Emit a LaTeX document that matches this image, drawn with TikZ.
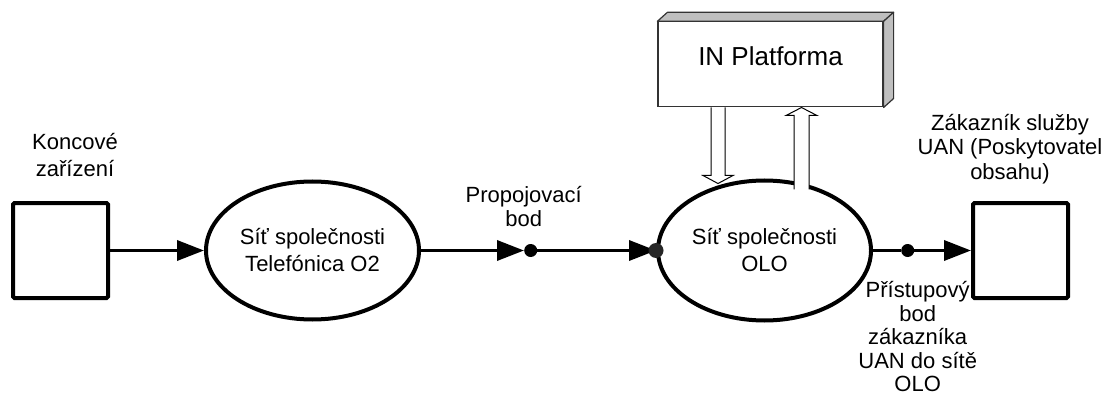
\documentclass[tikz,border=0pt]{standalone}
\usepackage{fontspec}
\setmainfont{Liberation Sans}
\usepackage{tikz}
\usetikzlibrary{shapes.geometric, arrows.meta, positioning, calc}
\tikzstyle{device} = [rectangle, minimum width=95pt, minimum height=95pt, draw=black, line width=4pt, rounded corners=1.5pt]
\tikzstyle{net} = [ellipse, minimum width=213pt, minimum height=138pt, inner sep=0pt, draw=black, line width=4pt, align=center, font=\fontsize{22pt}{27pt}\selectfont]
\tikzstyle{joint} = [circle, fill=black, minimum size=13pt, inner sep=0pt]
\tikzstyle{lbl} = [align=center, inner sep=0pt, anchor=base, font=\fontsize{22pt}{24pt}\selectfont]
\tikzstyle{arrow} = [line width=3.5pt, -{Triangle[length=27pt, width=20pt]}]
\tikzstyle{platform} = [rectangle, minimum width=225pt, minimum height=85pt, draw=black!80, line width=1.2pt, fill=white, text height=19pt, text depth=16pt, font=\fontsize{26pt}{30pt}\selectfont]
\tikzstyle{side} = [draw=black!80, fill=black!25, line width=1.2pt, line join=round]
\tikzstyle{hollow} = [draw=black, fill=white, line width=1pt]

\begin{document}
\begin{tikzpicture}[x=1pt, y=1pt]
\useasboundingbox (0,0) rectangle (1102,394);

% Terminal, networks, customer
\node (term) [device] at (60.5,143.5) {};
\node (tef) [net, right=94pt of term] {Síť společnosti\\Telefónica O2};
\node (olo) [net, right=235pt of tef, minimum height=140pt] {Síť společnosti\\OLO};
\node (cust) [device, right=98pt of olo] {};

% Connection points
\node (pb) [joint, right=103pt of tef] {};
\node (ap) [joint, right=28pt of olo] {};

% IN Platform
\node (in) [platform, above=71pt of olo, xshift=6pt] {IN Platforma};
\draw [side] (in.north west) -- ++(10,9) -- ($(in.north east)+(10,9)$) -- (in.north east) -- cycle;
\draw [side] (in.north east) -- ++(10,9) -- ($(in.south east)+(10,9)$) -- (in.south east) -- cycle;

% Block arrows between platform and OLO
\draw [hollow] ($(in.south)+(-59.5,0)$) -- ++(0,-68) -- ++(-8,0) -- ++(15,-8) -- ++(15,8) -- ++(-8,0) -- ++(0,68);
\draw [hollow] ($(in.south)+(23.5,-82)$) -- ++(0,74) -- ++(-8,0) -- ++(15.5,8) -- ++(15.5,-8) -- ++(-8,0) -- ++(0,-74);

% Arrows
\draw [arrow] (term) -- (tef);
\draw [arrow] (tef) -- (pb);
\draw [arrow] (pb) -- (olo.west);
\draw [arrow] (olo) -- (ap) -- (cust);
\node (entry) [joint, fill=black!85, minimum size=15pt] at (olo.west) {};

% Labels (base = last line)
\node (koncove) [lbl, font=\fontsize{22pt}{26pt}\selectfont] at ([shift={(14.5,25)}]term.north) {Koncové\\zařízení};
\node (zakaznik) [lbl, font=\fontsize{22pt}{25pt}\selectfont] at ([shift={(-10.5,21)}]cust.north) {Zákazník služby\\UAN (Poskytovatel\\obsahu)};
\node (propoj) [lbl] at ([shift={(-7,24)}]pb.center) {Propojovací\\bod};
\node (pristup) [lbl, font=\fontsize{22pt}{23.5pt}\selectfont] at ([shift={(10,-141)}]ap.center) {Přístupový\\bod\\zákazníka\\UAN do sítě\\OLO};

\end{tikzpicture}
\end{document}
